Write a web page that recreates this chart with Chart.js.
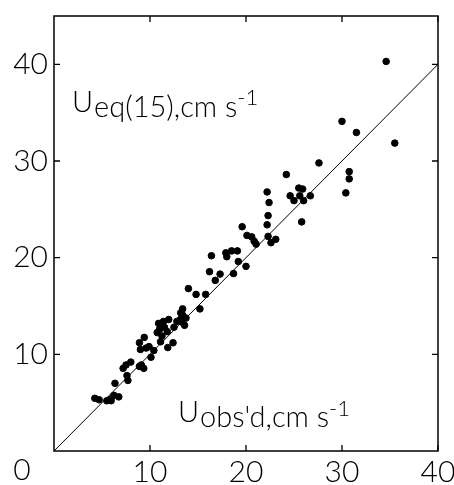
<!DOCTYPE html>
<html lang="en">
<head>
  <meta charset="UTF-8" />
  <title>U eq(15) vs U obs'd</title>
  <script src="https://cdn.jsdelivr.net/npm/chart.js"></script>
  <style>
    body {
      margin: 0;
      padding: 0;
      background: #fff;
    }
    .wrap {
      width: 454px;
      height: 485px;
      position: relative;
    }
  </style>
</head>
<body>
  <div class="wrap">
    <canvas id="scatter"></canvas>
  </div>

  <script>
    // observed speed (x) and speed from eq. (15) (y), cm/s
    const obsX = [
      34.6, 35.5, 30.0, 31.5, 30.75, 30.75, 30.4, 27.6, 24.2, 24.6,
      25.0, 25.5, 25.9, 25.6, 26.0, 26.7, 25.8, 22.2, 22.4, 22.3,
      22.2, 22.3, 22.6, 23.1, 19.6, 20.1, 20.6, 20.85, 21.05, 20.0,
      19.2, 19.1, 18.5, 17.9, 18.0, 18.7, 16.4, 16.2, 17.3, 16.8,
      14.0, 14.8, 15.8, 15.2, 13.4, 13.2, 13.4, 13.75, 13.15, 12.8,
      13.6, 13.3, 11.95, 11.4, 10.9, 11.5, 11.8, 11.0, 10.75, 11.25,
      11.1, 12.5, 12.4, 11.85, 9.4, 8.9, 9.0, 9.6, 9.9, 10.4,
      10.1, 9.1, 9.35, 8.9, 8.0, 7.5, 7.2, 7.6, 7.7, 6.35,
      6.25, 6.75, 5.9, 5.5, 5.95, 4.25, 4.7
    ];
    const eqY = [
      40.3, 31.85, 34.1, 32.95, 28.9, 28.15, 26.7, 29.8, 28.6, 26.4,
      25.9, 27.2, 27.1, 26.4, 25.9, 26.4, 23.7, 26.8, 25.7, 24.35,
      23.4, 22.2, 21.55, 21.9, 23.2, 22.3, 22.15, 21.7, 21.4, 19.1,
      19.6, 20.7, 20.7, 20.5, 20.1, 18.35, 20.2, 18.55, 18.3, 17.65,
      16.8, 16.2, 16.2, 14.7, 14.7, 14.3, 14.05, 13.75, 13.6, 13.4,
      13.0, 13.35, 13.6, 13.4, 13.2, 12.8, 12.35, 12.6, 12.25, 11.9,
      11.3, 12.8, 11.2, 10.7, 11.75, 11.2, 10.5, 10.65, 10.8, 10.4,
      9.7, 8.9, 8.55, 8.75, 9.2, 8.9, 8.55, 7.8, 7.3, 7.0,
      5.75, 5.6, 5.35, 5.2, 5.2, 5.45, 5.3
    ];

    // 1:1 line
    const lineX = [0, 40];
    const lineY = [0, 40];

    const tickValues = [10, 20, 30, 40];
    const xMax = 40;
    const yMax = 45;

    const FONT = "'Lato', 'DejaVu Sans', sans-serif";

    const points = obsX.map((x, i) => ({ x: x, y: eqY[i] }));
    const diag = lineX.map((x, i) => ({ x: x, y: lineY[i] }));

    // writes U + subscript + superscript starting at (x, y) baseline
    function caption(ctx, x, y, sub, supDy) {
      ctx.font = '300 29px ' + FONT;
      ctx.fillText('U', x, y);
      x += ctx.measureText('U').width + 1;
      ctx.fillText(sub, x, y + 5);
      x += ctx.measureText(sub).width;
      ctx.font = '300 22px ' + FONT;
      ctx.fillText('-1', x, y + supDy);
    }

    // frame, inward ticks, corner zero and the two axis captions
    const framePlugin = {
      id: 'frame',
      afterDraw(chart) {
        const ctx = chart.ctx;
        const a = chart.chartArea;
        const xs = chart.scales.x;
        const ys = chart.scales.y;
        ctx.save();
        ctx.strokeStyle = '#000';
        ctx.lineWidth = 1.5;
        ctx.strokeRect(a.left, a.top, a.right - a.left, a.bottom - a.top);

        ctx.lineWidth = 1.3;
        const tl = 6;
        tickValues.forEach(v => {
          const px = xs.getPixelForValue(v);
          const py = ys.getPixelForValue(v);
          ctx.beginPath();
          ctx.moveTo(px, a.bottom); ctx.lineTo(px, a.bottom - tl);
          ctx.moveTo(px, a.top); ctx.lineTo(px, a.top + tl);
          ctx.moveTo(a.left, py); ctx.lineTo(a.left + tl, py);
          ctx.moveTo(a.right, py); ctx.lineTo(a.right - tl, py);
          ctx.stroke();
        });

        ctx.fillStyle = '#000';
        ctx.textBaseline = 'alphabetic';
        ctx.textAlign = 'center';
        ctx.font = '300 30px ' + FONT;
        ctx.fillText('0', a.left - 32, a.bottom + 29);

        ctx.textAlign = 'left';
        caption(ctx, a.left + 18, a.top + 96, 'eq(15),cm s', -7);
        caption(ctx, a.left + 124, a.bottom - 29, "obs'd,cm s", -6);
        ctx.restore();
      }
    };

    new Chart(document.getElementById('scatter'), {
      type: 'scatter',
      data: {
        datasets: [
          {
            label: "U eq(15)",
            data: points,
            backgroundColor: '#000',
            borderColor: '#000',
            pointRadius: 3.3,
            pointHoverRadius: 3.3,
            order: 1
          },
          {
            type: 'line',
            label: '1:1',
            data: diag,
            borderColor: '#000',
            borderWidth: 1,
            pointRadius: 0,
            fill: false,
            order: 2
          }
        ]
      },
      options: {
        responsive: true,
        maintainAspectRatio: false,
        animation: false,
        events: [],
        layout: { padding: { top: 16, right: 16, left: 0, bottom: 0 } },
        plugins: {
          legend: { display: false },
          tooltip: { enabled: false }
        },
        scales: {
          x: {
            type: 'linear',
            min: 0,
            max: xMax,
            afterBuildTicks: s => { s.ticks = tickValues.map(v => ({ value: v })); },
            afterFit: s => { s.height = 34; s.paddingLeft = 0; s.paddingRight = 0; },
            grid: { display: false, drawTicks: false },
            border: { display: false },
            ticks: {
              color: '#000',
              padding: 3,
              maxRotation: 0,
              font: { family: FONT, size: 30, weight: '300' }
            }
          },
          y: {
            type: 'linear',
            min: 0,
            max: yMax,
            afterBuildTicks: s => { s.ticks = tickValues.map(v => ({ value: v })); },
            afterFit: s => { s.width = 54; s.paddingTop = 0; s.paddingBottom = 0; },
            grid: { display: false, drawTicks: false },
            border: { display: false },
            ticks: {
              color: '#000',
              padding: 6,
              font: { family: FONT, size: 30, weight: '300' }
            }
          }
        }
      },
      plugins: [framePlugin]
    });
  </script>
</body>
</html>
